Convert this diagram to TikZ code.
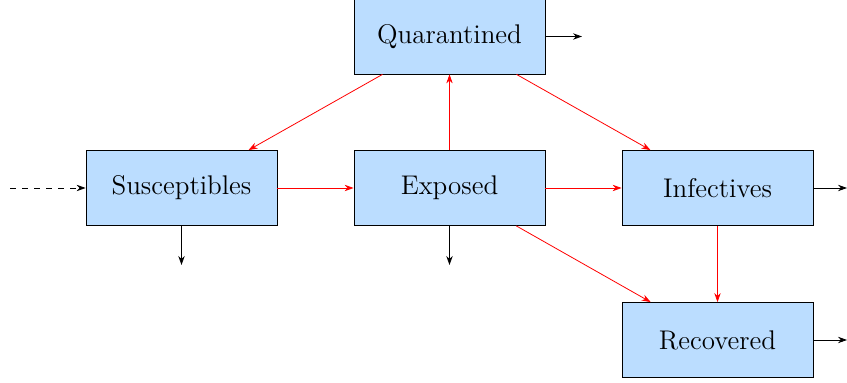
\documentclass[tikz,border=0pt]{standalone}
\usetikzlibrary{arrows.meta}
\definecolor{boxblue}{RGB}{187,221,255}
\tikzset{
    compartment/.style={draw, fill=boxblue, minimum width=95.5pt, minimum height=37.5pt,
        inner sep=0pt, font=\fontsize{13.5pt}{16pt}\selectfont},
    flow/.style={red, -{Stealth[length=4.5pt,width=3.2pt]}},
    outflow/.style={black, -{Stealth[length=4.5pt,width=3.2pt]}}
}
\begin{document}
\begin{tikzpicture}[x=0.5pt, y=-0.5pt]
    % --- Fix the page to the reference size ---
    \useasboundingbox (0,0) rectangle (847,383);

    % --- Compartments ---
    \node[compartment] (Q) at (449.5,36.5) {Quarantined};
    \node[compartment] (S) at (181.5,188) {Susceptibles};
    \node[compartment] (E) at (449.5,188) {Exposed};
    \node[compartment] (I) at (717.5,188) {Infectives};
    \node[compartment] (R) at (717.5,340) {Recovered};

    % --- Free ends of the in- and outflows ---
    \coordinate (S_In) at (10,188);
    \coordinate (Q_Out) at (582,36.5);
    \coordinate (I_Out) at (847,188);
    \coordinate (R_Out) at (847,340);
    \coordinate (S_Out) at (181.5,265);
    \coordinate (E_Out) at (449.5,265);

    % Transitions between compartments
    \draw[flow] (S) -- (E);
    \draw[flow] (E) -- (I);
    \draw[flow] (E) -- (Q);
    \draw[flow] (Q) -- (S);
    \draw[flow] (Q) -- (I);
    \draw[flow] (E) -- (R);
    \draw[flow] (I) -- (R);

    % Births, deaths and removals
    \draw[outflow, dashed] (S_In) -- (S);
    \draw[outflow] (Q) -- (Q_Out);
    \draw[outflow] (I) -- (I_Out);
    \draw[outflow] (R) -- (R_Out);
    \draw[outflow] (S) -- (S_Out);
    \draw[outflow] (E) -- (E_Out);
\end{tikzpicture}
\end{document}
